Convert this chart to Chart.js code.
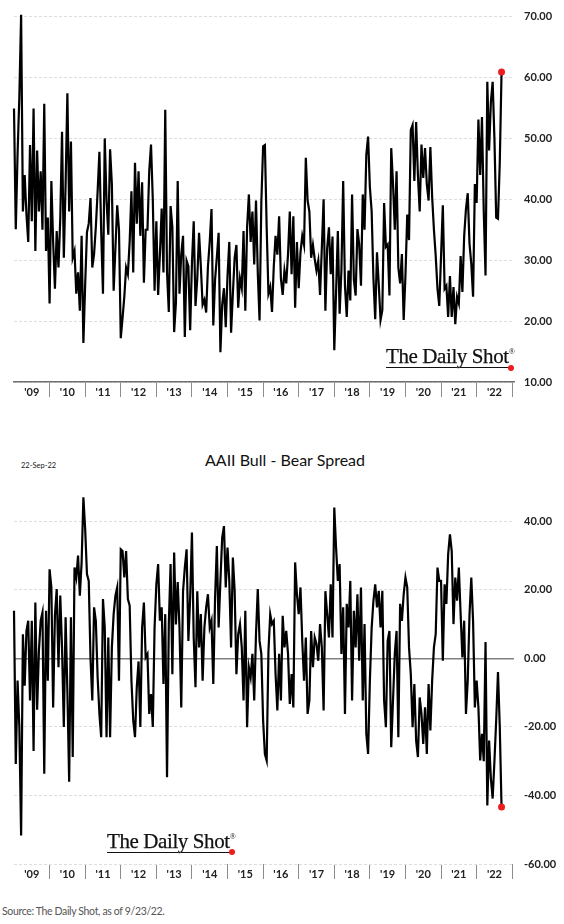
<!DOCTYPE html>
<html>
<head>
<meta charset="utf-8">
<script src="https://cdn.jsdelivr.net/npm/chart.js@4.4.0/dist/chart.umd.min.js"></script>
<style>
  html, body { margin: 0; padding: 0; background: #fff; }
  body { width: 564px; height: 924px; position: relative; overflow: hidden; font-family: Lato, sans-serif; }
  .box { position: absolute; left: 0; width: 564px; }
  #topBox { top: 0; height: 410px; }
  #botBox { top: 470px; height: 422px; }
  .logo { position: absolute; font-family: 'Liberation Serif', serif; font-size: 21px; line-height: 1; color: #111; letter-spacing: -0.4px; white-space: nowrap; -webkit-text-stroke: 0.25px #111; }
  .logo .u { text-decoration: underline; text-decoration-thickness: 1.3px; text-underline-offset: 4px; }
  .logo sup { font-size: 8px; vertical-align: 9px; -webkit-text-stroke: 0; }
  .dot { position: absolute; width: 6px; height: 6px; border-radius: 50%; background: #ee1c1c; }
  #title { position: absolute; left: 285px; top: 452px; transform: translateX(-50%); font-size: 16px; line-height: 1; color: #111; white-space: nowrap; }
  #date { position: absolute; left: 21px; top: 462px; font-size: 7.5px; line-height: 1; color: #222; }
  #source { position: absolute; left: 2px; top: 906px; font-size: 10.5px; letter-spacing: -0.35px; line-height: 1; color: #555; }
</style>
</head>
<body>
<div class="box" id="topBox"><canvas id="bearChart" width="564" height="410"></canvas></div>
<div class="logo" style="left:386px; top:346px;"><span class="u">The Daily Shot</span><sup>®</sup></div>
<div class="dot" style="left:508px; top:365px;"></div>

<div id="date">22-Sep-22</div>
<div id="title">AAII Bull - Bear Spread</div>
<div class="box" id="botBox"><canvas id="spreadChart" width="564" height="422"></canvas></div>
<div class="logo" style="left:107px; top:831px;"><span class="u">The Daily Shot</span><sup>®</sup></div>
<div class="dot" style="left:229px; top:849px;"></div>

<div id="source">Source: The Daily Shot, as of 9/23/22.</div>

<script>
const firstYear = 2009
const perYear = 20
const yearLabels = ["'09", "'10", "'11", "'12", "'13", "'14", "'15", "'16", "'17", "'18", "'19", "'20", "'21", "'22"]
const bearTicks = [10, 20, 30, 40, 50, 60, 70]
const spreadTicks = [-60, -40, -20, 0, 20, 40]

// AAII bearish %, ~20 readings per year
const bear09 = [54.9, 35.1, 47.4, 56.8, 70.3, 38.0, 44.0, 37.5, 33.0, 48.9, 36.4, 54.9, 31.5, 48.0, 38.0, 44.6, 35.0, 55.7, 31.5, 37.0]
const bear10 = [22.9, 43.0, 33.0, 25.3, 34.8, 28.8, 36.8, 51.1, 30.4, 42.5, 57.4, 38.0, 49.5, 30.4, 31.5, 24.5, 28.0, 21.7, 34.0, 16.4]
const bear11 = [26.0, 34.6, 36.0, 40.2, 28.8, 31.0, 35.5, 41.3, 47.8, 34.8, 24.5, 50.0, 39.8, 34.2, 48.2, 42.5, 25.0, 32.0, 39.0, 35.0]
const bear12 = [17.2, 20.5, 24.0, 28.8, 27.7, 33.0, 41.3, 28.0, 46.0, 36.0, 44.6, 34.0, 42.8, 26.3, 35.0, 35.0, 44.6, 49.0, 40.0, 25.0]
const bear13 = [36.4, 24.3, 31.0, 38.5, 28.0, 54.7, 28.0, 21.5, 38.9, 35.4, 18.2, 23.0, 43.0, 24.5, 31.0, 34.0, 17.4, 29.9, 29.0, 18.5]
const bear14 = [29.5, 36.4, 22.5, 27.0, 34.5, 29.0, 22.7, 23.5, 21.4, 29.0, 33.0, 38.4, 19.3, 26.8, 30.5, 34.5, 14.9, 22.7, 25.4, 19.0]
const bear15 = [27.5, 33.0, 18.1, 24.5, 30.4, 32.5, 22.2, 27.0, 25.4, 34.8, 21.7, 35.4, 40.8, 33.0, 38.0, 29.3, 39.8, 28.0, 20.1, 39.5]
const bear16 = [48.7, 48.9, 35.4, 24.5, 25.6, 21.5, 29.0, 34.0, 30.9, 37.2, 27.0, 24.3, 28.3, 26.2, 31.0, 38.0, 27.7, 37.2, 22.2, 33.0]
const bear17 = [25.4, 31.3, 34.0, 32.5, 46.8, 39.8, 38.0, 30.4, 32.5, 30.2, 28.3, 29.9, 24.3, 32.0, 40.0, 21.7, 32.0, 35.4, 27.7, 33.9]
const bear18 = [15.2, 24.7, 34.8, 21.2, 28.3, 43.0, 25.8, 20.7, 28.3, 23.4, 40.8, 26.8, 24.2, 35.1, 32.6, 25.8, 40.8, 35.0, 47.3, 50.3]
const bear19 = [42.0, 38.0, 27.0, 20.3, 31.3, 26.0, 20.2, 21.8, 39.4, 32.2, 32.6, 24.2, 48.4, 42.6, 35.0, 44.6, 28.8, 26.2, 31.0, 20.2]
const bear20 = [27.5, 37.5, 33.3, 51.4, 52.2, 43.0, 52.7, 44.0, 38.0, 49.0, 43.5, 48.4, 42.5, 39.8, 48.6, 40.4, 35.0, 30.7, 25.3, 22.5]
const bear21 = [30.7, 39.0, 25.3, 25.8, 20.7, 27.4, 20.7, 25.6, 19.5, 24.0, 22.9, 30.7, 24.8, 34.0, 38.4, 41.0, 32.7, 29.4, 24.0, 42.5]
const bear22 = [39.4, 53.1, 44.0, 53.5, 38.0, 27.5, 59.3, 48.0, 56.0, 59.3, 50.0, 37.0, 36.8, 46.0, 60.9]

// bull minus bear spread
const spread09 = [13.9, -30.8, -6.5, -20.0, -51.7, 7.0, -8.0, 8.0, 11.0, -12.3, 11.0, -27.0, 16.3, -15.0, 2.2, 11.0, 13.4, -33.7, 13.9, -6.5]
const spread10 = [26.0, 20.7, -14.3, 12.6, 20.2, -2.6, 18.3, 3.0, -20.0, 12.0, -9.5, -36.0, 12.0, -28.8, 26.5, 23.6, 30.0, 18.3, 28.0, 47.0]
const spread11 = [37.7, 24.6, 22.6, 0.0, -12.3, 14.9, 10.9, -5.5, -16.2, -23.0, 17.3, 9.0, -23.0, 6.1, -23.0, 3.2, 12.9, 18.3, 20.7, -6.5]
const spread12 = [31.8, 31.3, 23.6, 31.3, 17.3, 15.4, -6.5, -18.0, -23.0, -8.4, -0.9, -20.0, 9.0, 16.3, 0.3, 1.3, -16.2, -10.4, -20.0, 9.0]
const spread13 = [21.6, 27.5, 11.0, 14.9, -7.5, 12.9, -34.7, 10.0, 27.5, -4.6, 30.9, 9.9, 22.3, 9.0, -14.3, 19.6, 26.5, 31.8, 5.1, 17.7]
const spread14 = [36.7, 6.0, -8.4, 19.6, 3.2, 12.9, -6.5, 9.0, 14.9, 18.7, 9.0, 11.0, -7.5, 17.7, 32.8, 9.0, 22.6, 35.2, 38.6, 20.7]
const spread15 = [32.3, 22.6, 3.2, 29.4, 19.7, -4.6, 7.1, 10.0, 3.2, -12.3, 13.9, -20.1, -2.6, -5.5, 1.3, -12.3, 7.1, 20.2, 5.1, 1.3]
const spread16 = [-18.1, -27.9, -29.8, 2.1, 12.9, 10.0, 10.9, -4.6, -15.2, 1.3, -12.3, 12.4, 3.2, 8.0, 1.3, -13.3, -4.6, -14.3, 28.0, 18.7]
const spread17 = [12.9, 20.7, 5.1, -6.5, 6.1, -16.2, -12.3, 8.0, -2.6, 6.1, 4.2, -0.7, 10.0, 3.2, -15.2, 19.6, 12.9, 6.1, 21.6, 6.1]
const spread18 = [44.0, 32.3, 22.6, 27.5, 1.3, 14.9, -16.2, 15.9, 9.0, 22.6, -12.3, 13.9, 3.2, 18.7, -0.7, 20.7, -12.3, 10.0, -22.0, -27.9]
const spread19 = [-6.5, 8.9, 16.8, 21.6, 14.9, 19.7, 9.0, 19.7, -12.3, -20.1, 5.1, 8.0, -25.9, -12.3, 1.3, 8.0, -23.0, 15.9, 10.9, 18.7]
const spread20 = [23.6, 20.7, 3.2, -4.6, -20.1, -7.5, -24.0, -28.8, -11.4, -16.2, -25.0, -14.3, -27.9, -7.5, -21.0, -6.5, 3.2, 7.1, 26.5, 22.6]
const spread21 = [22.6, -0.7, 21.6, 15.9, 30.4, 36.2, 31.3, 10.0, 23.6, 16.8, 26.5, 12.9, 0.3, 11.0, -16.2, -6.5, 12.9, 23.6, 10.9, -14.3]
const spread22 = [-6.5, -14.3, -29.8, -22.0, -30.0, 4.8, -42.9, -24.0, -35.0, -40.9, -30.0, -18.0, -4.0, -20.0, -43.4]

const bearYears = [bear09, bear10, bear11, bear12, bear13, bear14, bear15, bear16, bear17, bear18, bear19, bear20, bear21, bear22]
const spreadYears = [spread09, spread10, spread11, spread12, spread13, spread14, spread15, spread16, spread17, spread18, spread19, spread20, spread21, spread22]

function toPoints(years) {
  const pts = []
  years.forEach((vals, k) =>
    vals.forEach((v, i) => pts.push({x: firstYear + k + i / perYear, y: v}))
  )
  return pts
}

const tickFont = {family: 'Lato', size: 11, weight: 'bold'}

function makeChart(id, points, yTicks, yMin, yMax, padTop, axisLine) {
  const last = points.length - 1
  return new Chart(document.getElementById(id), {
    type: 'line',
    data: {
      datasets: [
        {
          data: points,
          borderColor: '#000',
          borderWidth: 2.2,
          tension: 0,
          clip: false,
          pointRadius: c => (c.dataIndex === last ? 3.5 : 0),
          pointBackgroundColor: '#ee1c1c',
          pointBorderWidth: 0,
        },
      ],
    },
    options: {
      responsive: false,
      animation: false,
      events: [],
      layout: {padding: {left: 14, right: 0, top: padTop, bottom: 0}},
      plugins: {legend: {display: false}, tooltip: {enabled: false}},
      scales: {
        x: {
          type: 'linear',
          min: firstYear,
          max: 2023.05,
          afterBuildTicks: s => {
            s.ticks = []
            yearLabels.forEach((l, k) => {
              s.ticks.push({value: firstYear + k + 0.5})
              s.ticks.push({value: firstYear + k + 1})
            })
          },
          afterFit: s => {
            s.height = 28
          },
          ticks: {
            autoSkip: false,
            maxRotation: 0,
            padding: -11,
            color: '#222',
            font: tickFont,
            callback: v => (Number.isInteger(v) ? '' : yearLabels[Math.floor(v) - firstYear]),
          },
          grid: {
            drawOnChartArea: false,
            tickLength: 15,
            tickWidth: 1,
            tickColor: c => (Number.isInteger(c.tick.value) ? '#8c8c8c' : 'rgba(0,0,0,0)'),
          },
          border: {display: axisLine, color: '#6e6e6e', width: 1.5},
        },
        y: {
          position: 'right',
          min: yMin,
          max: yMax,
          afterBuildTicks: s => {
            s.ticks = yTicks.map(v => ({value: v}))
          },
          afterFit: s => {
            s.width = 50
          },
          ticks: {padding: 10, color: '#222', font: tickFont, callback: v => v.toFixed(2)},
          grid: {
            drawTicks: false,
            color: c => (c.tick.value === 0 ? '#808080' : '#dedede'),
            lineWidth: c => (c.tick.value === 0 ? 1.5 : 1),
          },
          border: {display: false, dash: c => (c.tick && c.tick.value === 0 ? [] : [3, 2])},
        },
      },
    },
  })
}

makeChart('bearChart', toPoints(bearYears), bearTicks, 10, 70, 14, true)
makeChart('spreadChart', toPoints(spreadYears), spreadTicks, -60, 50, 17, false)
</script>
</body>
</html>
